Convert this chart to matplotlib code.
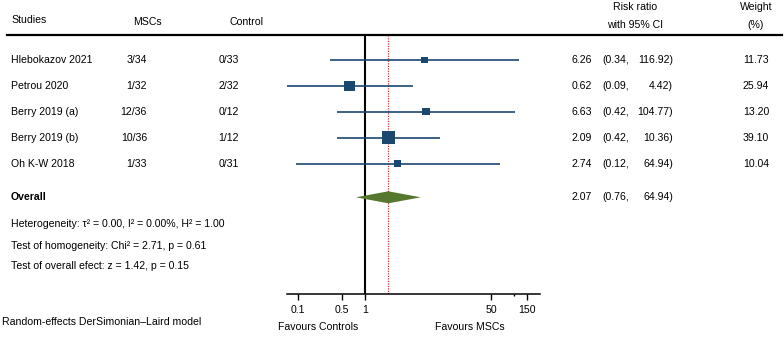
import numpy as np
import matplotlib
matplotlib.use("Agg")
import matplotlib.pyplot as plt
from matplotlib.lines import Line2D

plt.rcParams['font.family'] = ['Liberation Sans', 'DejaVu Sans']

# ---- data ----
studies = ["Hlebokazov 2021", "Petrou 2020", "Berry 2019 (a)", "Berry 2019 (b)", "Oh K-W 2018"]
msc = ["3/34", "1/32", "12/36", "10/36", "1/33"]
control = ["0/33", "2/32", "0/12", "1/12", "0/31"]
rr = [6.26, 0.62, 6.63, 2.09, 2.74]
lo = [0.34, 0.09, 0.42, 0.42, 0.12]
hi = [116.92, 4.42, 104.77, 10.36, 64.94]
weight = [11.73, 25.94, 13.20, 39.10, 10.04]
overall_rr = 2.07
overall_lo = 0.76
overall_hi_text = 64.94
overall_hi_diamond = 5.65
tick_pos = [0.125, 0.5, 1, 50, 150]
tick_labels = ["0.1", "0.5", "1", "50", "150"]

W, H = 784, 341
DPI = 100
fig = plt.figure(figsize=(W / DPI, H / DPI), dpi=DPI)

FS = 7.6
NAVY = "#1a476f"
GREEN = "#55782e"

def fx(x):
    return x / W

def fy(y):
    return 1 - y / H

def ftext(x, y, s, ha="left", **kw):
    fig.text(fx(x), fy(y), s, ha=ha, va="center", fontsize=FS, **kw)

# ---- plot axes (log x, row y) ----
x_left_px, x_right_px = 286.7, 540.0
px_one, px_dec = 364.8, 74.5
xmin = 10 ** ((x_left_px - px_one) / px_dec)
xmax = 10 ** ((x_right_px - px_one) / px_dec)
top_px, axis_px = 35.5, 294.0
row0_px, row_step = 60.0, 25.9
ax = fig.add_axes([fx(x_left_px), fy(axis_px), (x_right_px - x_left_px) / W, (axis_px - top_px) / H])
ax.set_xscale("log")
ax.set_xlim(xmin, xmax)
ax.set_ylim((axis_px - row0_px) / row_step, (top_px - row0_px) / row_step)
ax.patch.set_alpha(0)
for s in ["top", "left", "right"]:
    ax.spines[s].set_visible(False)
ax.spines["bottom"].set_linewidth(1.1)
ax.set_yticks([])
ax.set_xticks(tick_pos)
ax.set_xticklabels(tick_labels, fontsize=FS)
ax.xaxis.set_minor_locator(matplotlib.ticker.FixedLocator([100]))
ax.xaxis.set_minor_formatter(matplotlib.ticker.NullFormatter())
ax.tick_params(axis="x", which="major", length=4, width=1.0, pad=4)
ax.tick_params(axis="x", which="minor", length=1.5, width=1.0)

ys = np.arange(len(studies))
overall_y = (197.3 - row0_px) / row_step

ax.axvline(1, color="black", lw=1.5, zorder=2)
ax.axvline(overall_rr, color="#e0303a", lw=0.9, ls=(0, (1, 1)), zorder=2)

ax.hlines(ys, lo, hi, color=NAVY, lw=1.2, zorder=3)
sides_pt = 2.03 * np.sqrt(weight) * 0.72
ax.scatter(rr, ys, marker="s", s=sides_pt ** 2, color=NAVY, linewidths=0, zorder=4)

hh = 6.0 / row_step
ax.fill([overall_lo, overall_rr, overall_hi_diamond, overall_rr],
        [overall_y, overall_y - hh, overall_y, overall_y + hh],
        color=GREEN, lw=0, zorder=4)

# ---- header ----
fig.add_artist(Line2D([fx(7), fx(782)], [fy(34.5), fy(34.5)], color="black", lw=1.6))
ftext(11, 20, "Studies")
ftext(147, 22, "MSCs", ha="center")
ftext(246, 22, "Control", ha="center")
ftext(635, 6.5, "Risk ratio", ha="center")
ftext(635, 24.5, "with 95% CI", ha="center")
ftext(756, 6.5, "Weight", ha="center")
ftext(756, 24.5, "(%)", ha="center")

# ---- rows ----
for i in range(len(studies)):
    y = row0_px + row_step * i
    ftext(11, y, studies[i])
    ftext(147, y, msc[i], ha="right")
    ftext(239, y, control[i], ha="right")
    ftext(572, y, f"{rr[i]:.2f}")
    ftext(602, y, f"({lo[i]:.2f},")
    ftext(673, y, f"{hi[i]:.2f})", ha="right")
    ftext(756, y, f"{weight[i]:.2f}", ha="center")

ftext(11, 197.3, "Overall", fontweight="bold")
ftext(572, 197.3, f"{overall_rr:.2f}")
ftext(602, 197.3, f"({overall_lo:.2f},")
ftext(673, 197.3, f"{overall_hi_text:.2f})", ha="right")

ftext(11, 223.8, "Heterogeneity: \u03c4\u00b2 = 0.00, I\u00b2 = 0.00%, H\u00b2 = 1.00")
ftext(11, 246.0, "Test of homogeneity: Chi\u00b2 = 2.71, p = 0.61")
ftext(11, 265.8, "Test of overall efect: z = 1.42, p = 0.15")
ftext(2, 321.7, "Random-effects DerSimonian\u2013Laird model")

ftext(317.7, 327.0, "Favours Controls", ha="center")
ftext(470, 327.0, "Favours MSCs", ha="center")

fig.savefig("out.png", dpi=DPI)
